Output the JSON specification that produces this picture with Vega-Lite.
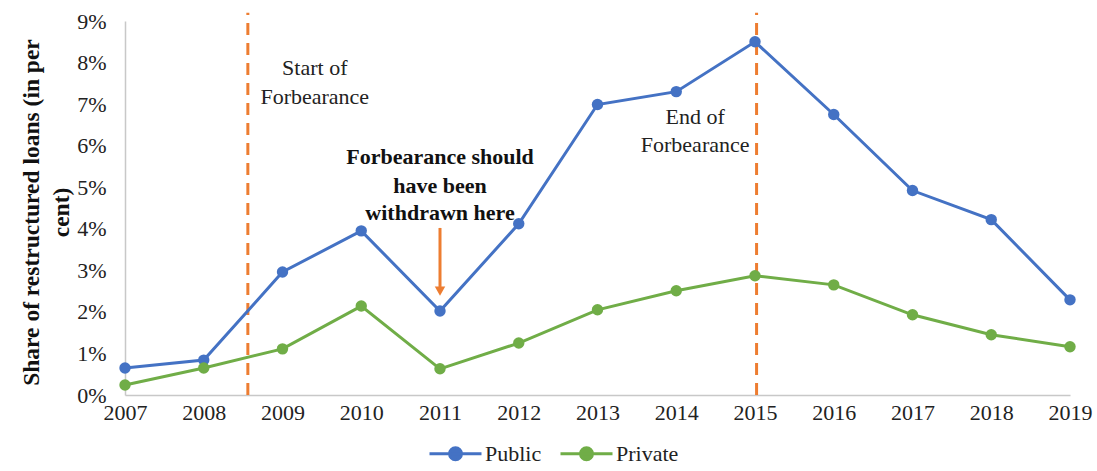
{
  "$schema": "https://vega.github.io/schema/vega-lite/v6.json",
  "width": 945,
  "height": 374,
  "autosize": {"type": "none"},
  "padding": {"left": 125, "top": 21, "right": 27, "bottom": 76},
  "background": "white",
  "config": {
    "view": {"stroke": null},
    "font": "Liberation Serif",
    "axis": {"labelFont": "Liberation Serif", "titleFont": "Liberation Serif", "labelColor": "#222", "titleColor": "#111", "grid": false, "ticks": false, "domainColor": "#c8c8c8", "domainWidth": 1.5, "labelFlush": false, "labelOverlap": false},
    "legend": {"labelFont": "Liberation Serif", "labelColor": "#222"}
  },
  "datasets": {
    "loans": [
      {"year": 2007, "sector": "Public", "share": 0.65},
      {"year": 2008, "sector": "Public", "share": 0.84},
      {"year": 2009, "sector": "Public", "share": 2.96},
      {"year": 2010, "sector": "Public", "share": 3.95},
      {"year": 2011, "sector": "Public", "share": 2.02},
      {"year": 2012, "sector": "Public", "share": 4.12},
      {"year": 2013, "sector": "Public", "share": 6.99},
      {"year": 2014, "sector": "Public", "share": 7.30},
      {"year": 2015, "sector": "Public", "share": 8.50},
      {"year": 2016, "sector": "Public", "share": 6.75},
      {"year": 2017, "sector": "Public", "share": 4.92},
      {"year": 2018, "sector": "Public", "share": 4.22},
      {"year": 2019, "sector": "Public", "share": 2.29},
      {"year": 2007, "sector": "Private", "share": 0.24},
      {"year": 2008, "sector": "Private", "share": 0.65},
      {"year": 2009, "sector": "Private", "share": 1.11},
      {"year": 2010, "sector": "Private", "share": 2.14},
      {"year": 2011, "sector": "Private", "share": 0.63},
      {"year": 2012, "sector": "Private", "share": 1.25},
      {"year": 2013, "sector": "Private", "share": 2.05},
      {"year": 2014, "sector": "Private", "share": 2.51},
      {"year": 2015, "sector": "Private", "share": 2.87},
      {"year": 2016, "sector": "Private", "share": 2.65},
      {"year": 2017, "sector": "Private", "share": 1.93},
      {"year": 2018, "sector": "Private", "share": 1.45},
      {"year": 2019, "sector": "Private", "share": 1.16}
    ],
    "markers": [
      {"x": 2008.56, "y0": 0, "y1": 9.2},
      {"x": 2015.02, "y0": 0, "y1": 9.2}
    ],
    "notes": [
      {"x": 2009.41, "y": 7.88, "text": "Start of"},
      {"x": 2009.41, "y": 7.18, "text": "Forbearance"},
      {"x": 2014.24, "y": 6.70, "text": "End of"},
      {"x": 2014.24, "y": 6.02, "text": "Forbearance"}
    ],
    "boldnotes": [
      {"x": 2011.0, "y": 5.73, "text": "Forbearance should"},
      {"x": 2011.0, "y": 5.02, "text": "have been"},
      {"x": 2011.0, "y": 4.39, "text": "withdrawn here"}
    ],
    "arrow": [
      {"x": 2011.0, "y0": 4.02, "y1": 2.6, "tip": 2.5}
    ]
  },
  "layer": [
    {
      "data": {"name": "markers"},
      "mark": {"type": "rule", "color": "#ED7D31", "strokeWidth": 3, "strokeDash": [12, 8], "clip": false},
      "encoding": {
        "x": {"field": "x", "type": "quantitative", "scale": {"domain": [2007, 2019], "nice": false, "zero": false}},
        "y": {"field": "y0", "type": "quantitative", "scale": {"domain": [0, 9], "nice": false}},
        "y2": {"field": "y1"}
      }
    },
    {
      "data": {"name": "loans"},
      "mark": {"type": "line", "strokeWidth": 3, "point": {"filled": true, "size": 130}},
      "encoding": {
        "x": {"field": "year", "type": "quantitative", "scale": {"domain": [2007, 2019], "nice": false, "zero": false},
          "axis": {"title": null, "values": [2007, 2008, 2009, 2010, 2011, 2012, 2013, 2014, 2015, 2016, 2017, 2018, 2019], "format": "d", "labelFontSize": 22, "labelPadding": 7}},
        "y": {"field": "share", "type": "quantitative", "scale": {"domain": [0, 9], "nice": false},
          "axis": {"values": [0, 1, 2, 3, 4, 5, 6, 7, 8, 9], "labelExpr": "datum.value + '%'", "labelFontSize": 22, "labelPadding": 19,
            "title": ["Share of restructured loans (in per", "cent)"], "titleFontSize": 23.5, "titleFontWeight": "bold", "titlePadding": 3, "titleLineHeight": 30, "titleY": 191}},
        "color": {"field": "sector", "type": "nominal", "sort": ["Public", "Private"],
          "scale": {"domain": ["Public", "Private"], "range": ["#4472C4", "#70AD47"]},
          "legend": {"title": null, "orient": "none", "direction": "horizontal", "legendX": 303, "legendY": 405,
            "symbolType": "M-1,0H1M0.23,0A0.23,0.23,0,1,1,-0.23,0A0.23,0.23,0,1,1,0.23,0",
            "symbolSize": 2704, "symbolStrokeWidth": 3, "labelFontSize": 22, "labelOffset": 2, "columnPadding": 12,
            "encode": {"symbols": {"update": {"fill": {"scale": "color", "field": "value"}, "stroke": {"scale": "color", "field": "value"}}}}}
        }
      }
    },
    {
      "data": {"name": "notes"},
      "mark": {"type": "text", "font": "Liberation Serif", "fontSize": 22, "color": "#222", "align": "center", "baseline": "middle"},
      "encoding": {
        "x": {"field": "x", "type": "quantitative"},
        "y": {"field": "y", "type": "quantitative"},
        "text": {"field": "text"}
      }
    },
    {
      "data": {"name": "boldnotes"},
      "mark": {"type": "text", "font": "Liberation Serif", "fontSize": 22, "fontWeight": "bold", "color": "#111", "align": "center", "baseline": "middle"},
      "encoding": {
        "x": {"field": "x", "type": "quantitative"},
        "y": {"field": "y", "type": "quantitative"},
        "text": {"field": "text"}
      }
    },
    {
      "data": {"name": "arrow"},
      "mark": {"type": "rule", "color": "#ED7D31", "strokeWidth": 3},
      "encoding": {
        "x": {"field": "x", "type": "quantitative"},
        "y": {"field": "y0", "type": "quantitative"},
        "y2": {"field": "y1"}
      }
    },
    {
      "data": {"name": "arrow"},
      "mark": {"type": "point", "shape": "triangle-down", "filled": true, "color": "#ED7D31", "size": 110, "opacity": 1},
      "encoding": {
        "x": {"field": "x", "type": "quantitative"},
        "y": {"field": "tip", "type": "quantitative"}
      }
    }
  ]
}
